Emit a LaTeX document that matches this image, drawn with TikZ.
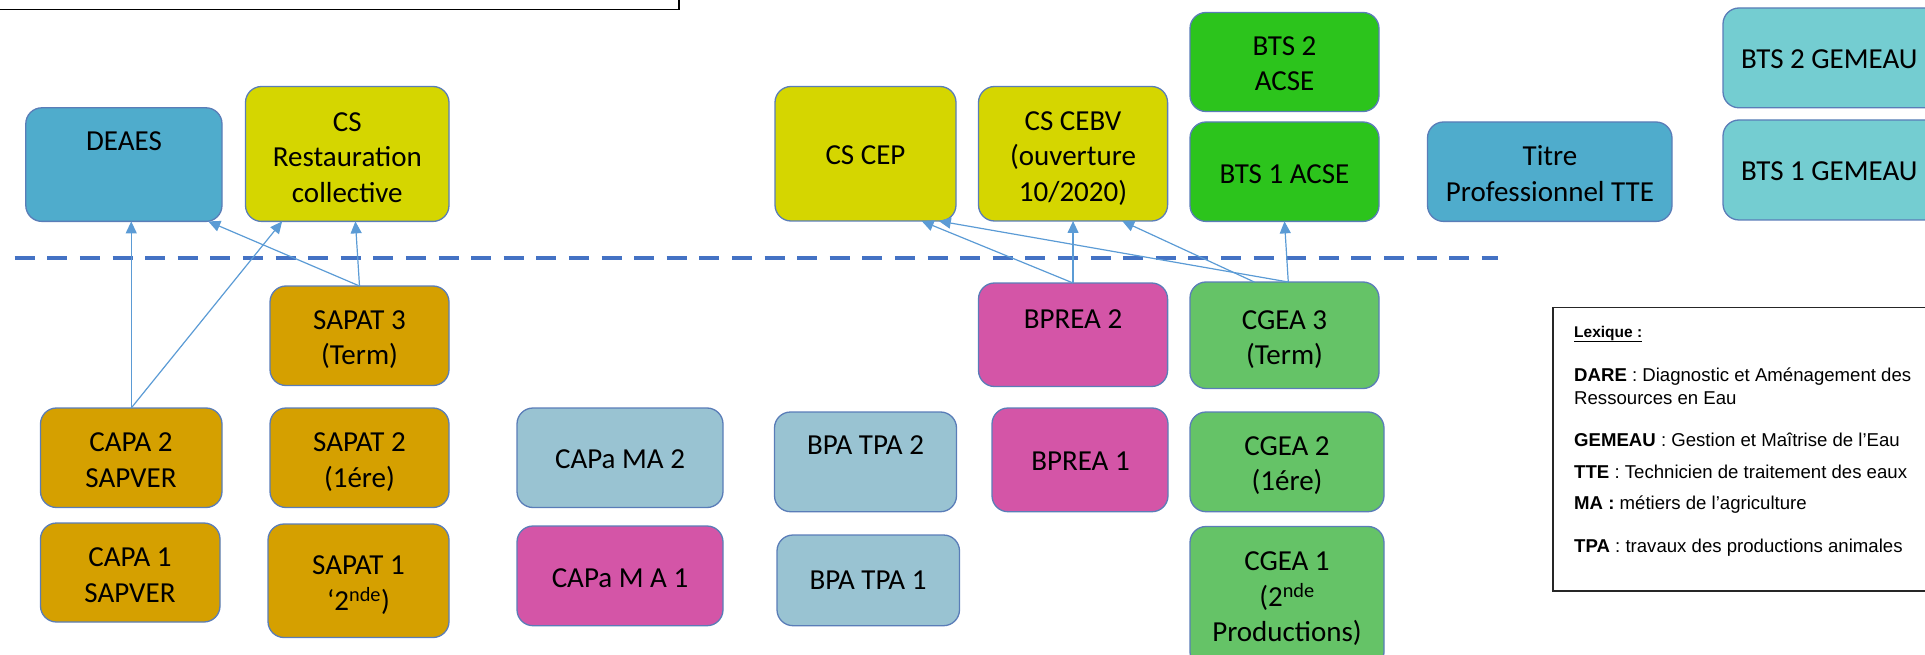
\documentclass[tikz,border=0pt]{standalone}
\usepackage{fontspec}
\setmainfont{Carlito}
\newfontfamily\arialf{Liberation Sans}
\usetikzlibrary{arrows.meta,calc}

\definecolor{cblue}{RGB}{79,172,204}
\definecolor{cyel}{RGB}{213,214,0}
\definecolor{cgrn}{RGB}{44,196,28}
\definecolor{cteal}{RGB}{116,205,209}
\definecolor{corg}{RGB}{213,160,0}
\definecolor{clblue}{RGB}{153,195,210}
\definecolor{cmag}{RGB}{212,85,167}
\definecolor{cgreen}{RGB}{101,195,103}
\definecolor{cborder}{RGB}{90,125,184}
\definecolor{carrow}{RGB}{91,155,213}
\definecolor{cdash}{RGB}{68,114,196}

\newcommand\mybox[6]{\node[box,fill=#2,minimum width={(#5-#3)*1pt},minimum height={(#6-#4)*1pt}] (#1) at ({(#3+#5)/2},{(#4+#6)/2}) {};}

\begin{document}
\begin{tikzpicture}[x=1pt,y=-1pt,
  box/.style={draw=cborder,line width=1.3pt,rounded corners=16pt,inner sep=0pt,outer sep=0pt},
  txt/.style={font=\fontsize{29}{35.5}\selectfont,align=center,inner sep=0pt,text depth=0pt},
  arr/.style={draw=carrow,line width=1.2pt,-{Triangle[length=12pt,width=11pt]}},
  lex/.style={font=\arialf\fontsize{18.6}{22.7}\selectfont,anchor=base west,inner sep=0pt}]
\useasboundingbox (0,0) rectangle (1925,655);

% top frame
\draw[black,line width=1.3pt] (-5,-5) rectangle (679,9.3);

% boxes
\mybox{deaes}{cblue}{25.8}{107.8}{222}{221.4}
\mybox{rest}{cyel}{245.5}{86.5}{449}{221.4}
\mybox{cep}{cyel}{775}{86.5}{956}{221}
\mybox{cebv}{cyel}{978.5}{86.5}{1167.6}{221}
\mybox{btsacsetwo}{cgrn}{1190}{12.5}{1379}{111.5}
\mybox{btsacseone}{cgrn}{1190}{122}{1379}{221.4}
\mybox{titre}{cblue}{1427.5}{122}{1672}{221.4}
\mybox{btsgemtwo}{cteal}{1723}{8}{2000}{107.8}
\mybox{btsgemone}{cteal}{1723}{120}{2000}{220}
\mybox{sapatthree}{corg}{270}{286}{449}{385.5}
\mybox{bpreatwo}{cmag}{978.5}{283}{1167.6}{386.5}
\mybox{cgeathree}{cgreen}{1190}{282}{1379}{388.5}
\mybox{capatwo}{corg}{40.5}{408}{222}{507.5}
\mybox{sapattwo}{corg}{270}{408}{449}{507.5}
\mybox{capamatwo}{clblue}{517}{408}{723}{507.5}
\mybox{bpatpatwo}{clblue}{774.5}{412}{956.5}{511.7}
\mybox{bpreaone}{cmag}{992}{408}{1168}{511.7}
\mybox{cgeatwo}{cgreen}{1190}{412}{1384}{511.7}
\mybox{capaone}{corg}{40.5}{523}{220}{622}
\mybox{sapatone}{corg}{268}{524}{449}{637.5}
\mybox{capamaone}{cmag}{517}{526}{723}{625.7}
\mybox{bpatpaone}{clblue}{777}{535}{959.5}{625.7}
\mybox{cgeaone}{cgreen}{1190}{526.5}{1384}{668}

% texts
\node[txt] (deaes-t) at (124,141) {DEAES};
\node[txt] (rest-t) at (347.3,157.3) {CS\\Restauration\\collective};
\node[txt] (cep-t) at (865.5,154.8) {CS CEP};
\node[txt] (cebv-t) at (1073,156.3) {CS CEBV\\(ouverture\\10/2020)};
\node[txt] (btsacsetwo-t) at (1284.5,63.4) {BTS 2\\ACSE};
\node[txt] (btsacseone-t) at (1284.5,174.3) {BTS 1 ACSE};
\node[txt] (titre-t) at (1550,173.5) {Titre\\Professionnel TTE};
\node[txt,anchor=west] (btsgemtwo-t) at (1741,59) {BTS 2 GEMEAU};
\node[txt,anchor=west] (btsgemone-t) at (1741,171.5) {BTS 1 GEMEAU};
\node[txt] (sapatthree-t) at (359.5,337.8) {SAPAT 3\\(Term)};
\node[txt] (bpreatwo-t) at (1073,319.5) {BPREA 2};
\node[txt] (cgeathree-t) at (1284.5,337.8) {CGEA 3\\(Term)};
\node[txt] (capatwo-t) at (131,460.2) {CAPA 2\\SAPVER};
\node[txt] (sapattwo-t) at (359.5,460.3) {SAPAT 2\\(1ére)};
\node[txt] (capamatwo-t) at (620,459.5) {CAPa MA 2};
\node[txt] (bpatpatwo-t) at (865.5,445) {BPA TPA 2};
\node[txt] (bpreaone-t) at (1080.5,461.3) {BPREA 1};
\node[txt] (cgeatwo-t) at (1287,463.7) {CGEA 2\\(1ére)};
\node[txt] (capaone-t) at (130,575) {CAPA 1\\SAPVER};
\node[txt] (sapatone-t) at (358.5,583.3) {SAPAT 1\\‘2\textsuperscript{nde})};
\node[txt] (capamaone-t) at (620,578.5) {CAPa M A 1};
\node[txt] (bpatpaone-t) at (868,580.6) {BPA TPA 1};
\node[txt] (cgeaone-t) at (1287,597) {CGEA 1\\(2\textsuperscript{nde}\\Productions)};

% dashed separator
\draw[cdash,line width=4.4pt,dash pattern=on 20pt off 12.6pt] (14.7,257.7) -- (1498,257.7);

% connectors
\draw[arr] (capatwo.north) -- (capatwo.north |- deaes.south);
\draw[arr] (capatwo.north) -- ($(rest.south west)!0.18!(rest.south east)$);
\draw[arr] (sapatthree.north) -- ($(deaes.south west)!0.93!(deaes.south east)$);
\draw[arr] (sapatthree.north) -- ($(rest.south west)!0.54!(rest.south east)$);
\draw[arr] (bpreatwo.north) -- ($(cep.south west)!0.81!(cep.south east)$);
\draw[arr] (bpreatwo.north) -- (cebv.south);
\draw[arr] ($(cgeathree.north west)!0.52!(cgeathree.north east)$) -- ($(cep.south west)!0.905!(cep.south east)$);
\draw[arr] ($(cgeathree.north west)!0.34!(cgeathree.north east)$) -- ($(cebv.south west)!0.76!(cebv.south east)$);
\draw[arr] ($(cgeathree.north west)!0.52!(cgeathree.north east)$) -- ($(btsacseone.south west)!0.5!(btsacseone.south east)$);

% lexique
\draw[black!85,line width=1.3pt] (1553,307.8) rectangle (1940,591);
\node[lex,font=\arialf\bfseries\fontsize{15.5}{18}\selectfont] (lexh) at (1574,337) {\underline{Lexique :}};
\node[lex] (lexa) at (1574,381.5) {\textbf{DARE} : Diagnostic et Aménagement des};
\node[lex] (lexb) at (1574,404) {Ressources en Eau};
\node[lex] (lexc) at (1574,446) {\textbf{GEMEAU} : Gestion et Maîtrise de l’Eau};
\node[lex] (lexd) at (1574,478.5) {\textbf{TTE} : Technicien de traitement des eaux};
\node[lex] (lexe) at (1574,509.5) {\textbf{MA :} métiers de l’agriculture};
\node[lex] (lexf) at (1574,552.5) {\textbf{TPA} : travaux des productions animales};
\end{tikzpicture}
\end{document}
